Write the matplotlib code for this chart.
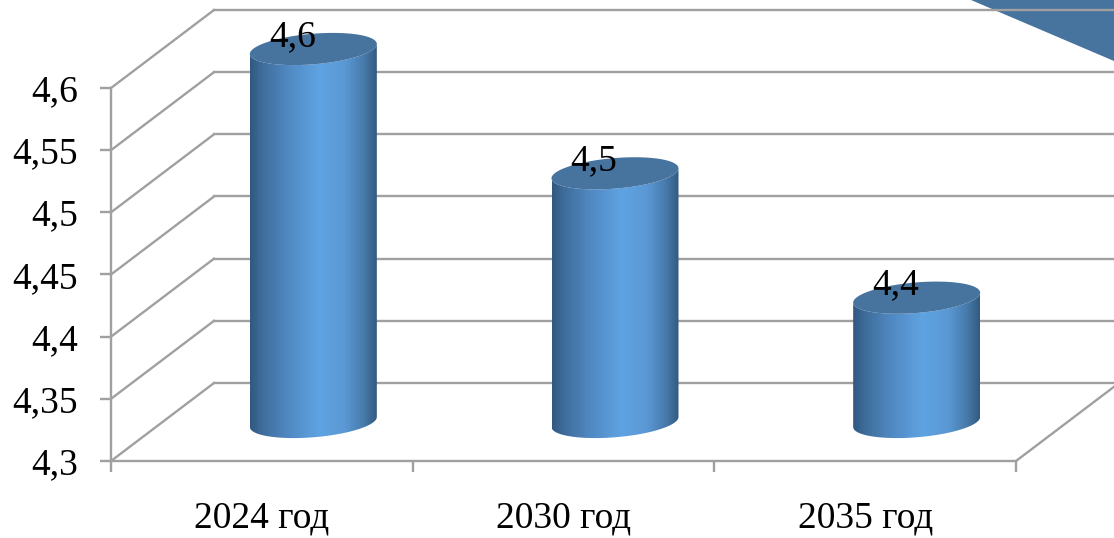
#!/usr/bin/env python3
"""Pseudo-3D cylinder chart, 2024-2035."""

import numpy as np
import matplotlib
matplotlib.use("Agg")
import matplotlib.pyplot as plt
from matplotlib.colors import LinearSegmentedColormap
from matplotlib.patches import PathPatch, Polygon
from matplotlib.path import Path

categories = ["2024 год", "2030 год", "2035 год"]
values = [4.6, 4.5, 4.4]
value_labels = ["4,6", "4,5", "4,4"]
y_ticks = [4.3, 4.35, 4.4, 4.45, 4.5, 4.55, 4.6]
y_tick_labels = ["4,3", "4,35", "4,4", "4,45", "4,5", "4,55", "4,6"]

W, H = 1114, 538
GRAY = "#a0a0a0"
TOP = "#47739f"
FS = 27
LW = 1.7

plt.rcParams["font.family"] = ["Liberation Serif", "DejaVu Serif"]

fig = plt.figure(figsize=(W / 100, H / 100), dpi=100, facecolor="white")
# axes box is the front plane of the fake 3D box
ax = fig.add_axes([111 / W, (H - 461) / H, 905 / W, 373 / H])
ax.set_facecolor("none")

# size of one pixel in data units
px = 3 / 905
py = 0.3 / 373
depth_x = 103 * px
depth_y = 78 * py

cmap = LinearSegmentedColormap.from_list(
    "cyl",
    [(0.0, "#315880"), (0.1, "#3f6e9c"), (0.3, "#5089c2"), (0.55, "#5fa3e2"),
     (0.75, "#5a98d4"), (0.9, "#477aaa"), (1.0, "#335a80")],
)


def rim(cx, cy, t):
    # tilted ellipse: right end sits a bit higher than the left one
    x = cx + 63.5 * px * np.cos(t)
    y = cy + (5 * np.cos(t) + 15.3 * np.sin(t)) * py
    return np.column_stack([x, y])


# floor and walls
for v in y_ticks:
    ax.plot([0, depth_x], [v, v + depth_y], color=GRAY, lw=LW, clip_on=False, zorder=2)
    ax.plot([depth_x, 3 + depth_x], [v + depth_y, v + depth_y], color=GRAY, lw=LW,
            clip_on=False, zorder=2)
ax.plot([3, 3 + depth_x], [4.3, 4.3 + depth_y], color=GRAY, lw=LW, clip_on=False, zorder=2)

# stray piece of a shape in the top right corner
corner = Polygon([[(971 - 111) * px, 4.3 + (461 - 0) * py],
                  [(1114 - 111) * px, 4.3 + (461 - 0) * py],
                  [(1114 - 111) * px, 4.3 + (461 - 61) * py]],
                 closed=True, facecolor=TOP, edgecolor="none", clip_on=False, zorder=1)
ax.add_patch(corner)

# cylinders stand halfway into the box
grad = np.linspace(0, 1, 256).reshape(1, -1)
for i, v in enumerate(values):
    cx = i + 0.5 + depth_x / 2
    base = 4.3 + depth_y / 2
    top = v + depth_y / 2
    t = np.linspace(np.pi, 2 * np.pi, 80)
    lower = rim(cx, base, t)
    upper = rim(cx, top, t)[::-1]
    outline = np.vstack([lower, upper, lower[:1]])
    body = PathPatch(Path(outline), facecolor="none", edgecolor="none", transform=ax.transData,
                     clip_on=False)
    ax.add_patch(body)
    im = ax.imshow(grad, cmap=cmap, aspect="auto", interpolation="bilinear", zorder=3,
                   extent=[cx - 63.5 * px, cx + 63.5 * px, base - 25 * py, top + 25 * py])
    # the cylinder top pokes out of the axes box, so clip to the figure only
    im.set_clip_box(fig.bbox)
    im.set_clip_path(body)
    tt = np.linspace(0, 2 * np.pi, 160)
    ax.add_patch(Polygon(rim(cx, top, tt), closed=True, facecolor=TOP, edgecolor="none",
                         clip_on=False, zorder=4))
    ax.text(cx - 21 * px, top + 3 * py, value_labels[i], ha="center", va="baseline",
            fontsize=FS, color="black", zorder=5, clip_on=False)

ax.set_xlim(0, 3)
ax.set_ylim(4.3, 4.6)

ax.set_yticks(y_ticks)
ax.set_yticklabels(y_tick_labels, fontsize=FS)
ax.set_xticks([0, 1, 2, 3])
ax.set_xticklabels([])
ax.set_xticks([0.5, 1.5, 2.5], minor=True)
ax.set_xticklabels(categories, minor=True, fontsize=FS)
ax.tick_params(axis="x", which="major", length=8, width=LW, color=GRAY)
ax.tick_params(axis="x", which="minor", length=0, pad=29)
ax.tick_params(axis="y", length=8, width=LW, color=GRAY, pad=15.5)

for s in ["top", "right"]:
    ax.spines[s].set_visible(False)
for s in ["left", "bottom"]:
    ax.spines[s].set_color(GRAY)
    ax.spines[s].set_linewidth(LW)

fig.savefig("out.png", dpi=100, facecolor="white")
plt.close(fig)
